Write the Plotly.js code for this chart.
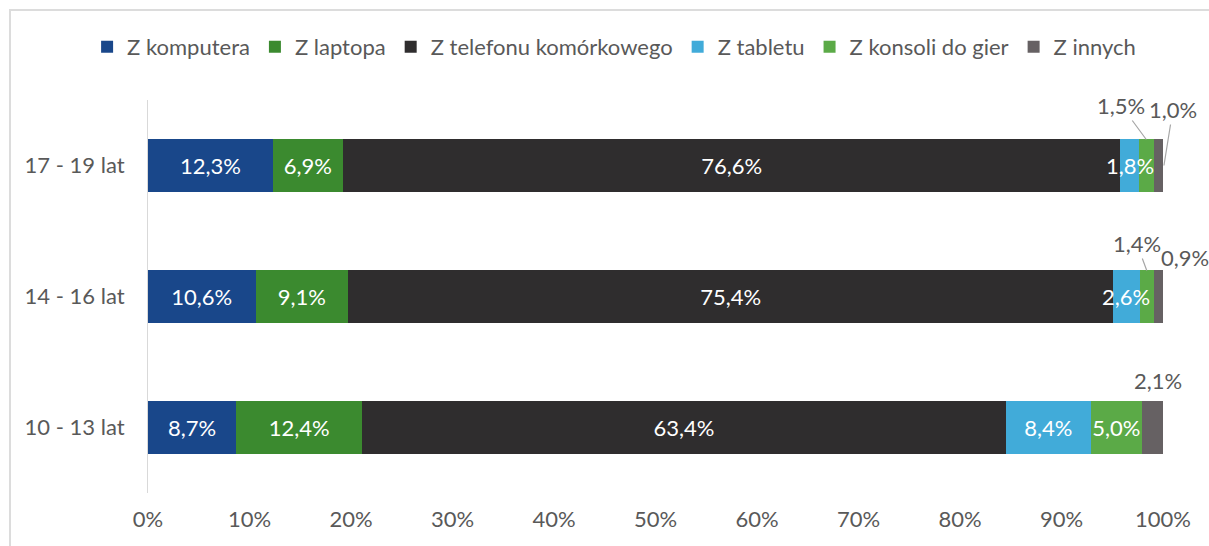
<!DOCTYPE html>
<html>
<head>
<meta charset="utf-8">
<script src="https://cdn.plot.ly/plotly-3.0.1.min.js"></script>
<style>
  html, body { margin: 0; padding: 0; background: #fff; }
  #chart { width: 1209px; height: 546px; }
  #frame { position: absolute; left: 9px; top: 9px; width: 1300px; height: 600px;
           border-left: 2px solid #dcdcdc; border-top: 2px solid #dcdcdc; pointer-events: none; }
</style>
</head>
<body>
<div id="chart"></div>
<div id="frame"></div>
<script>
// ---- data ----
var categories = ['10 - 13 lat', '14 - 16 lat', '17 - 19 lat'];
var seriesNames = ['Z komputera', 'Z laptopa', 'Z telefonu komórkowego', 'Z tabletu', 'Z konsoli do gier', 'Z innych'];
var komputera = [8.7, 10.6, 12.3];
var laptopa   = [12.4, 9.1, 6.9];
var telefonu  = [63.4, 75.4, 76.6];
var tabletu   = [8.4, 2.6, 1.8];
var konsoli   = [5.0, 1.4, 1.5];
var innych    = [2.1, 0.9, 1.0];
var xTickVals = [0, 10, 20, 30, 40, 50, 60, 70, 80, 90, 100];
var xTickText = ['0%', '10%', '20%', '30%', '40%', '50%', '60%', '70%', '80%', '90%', '100%'];

// ---- styles ----
var colors = ['#19478A', '#3B8A2F', '#2F2D2E', '#41ABD9', '#5BAA47', '#666163'];
var seriesValues = [komputera, laptopa, telefonu, tabletu, konsoli, innych];
var FONT = 'Lato, "Open Sans", sans-serif';
var FS = 22;

// labels drawn as annotations instead of inside the bar: [series index, category index, kind, ax, ay, xshift, yshift]
var outsideLabels = [
  [3, 2, 'over', 0, 0, 0, 0],
  [3, 1, 'over', 0, 0, 0, 0],
  [4, 2, 'arrow', -25, -34, 0, 26],
  [5, 2, 'arrow', 9, -56, 5, 0],
  [4, 1, 'arrow', -10, -27, 0, 26],
  [5, 1, 'free', 0, 0, 27, 39],
  [5, 0, 'free', 0, 0, 6, 47]
];

function fmt(v) { return v.toFixed(1).replace('.', ',') + '%'; }
function isOutside(si, ci) {
  return outsideLabels.some(function (o) { return o[0] === si && o[1] === ci; });
}

var traces = seriesNames.map(function (name, si) {
  return {
    type: 'bar',
    orientation: 'h',
    name: name,
    y: categories,
    x: seriesValues[si],
    marker: { color: colors[si], line: { width: 0 } },
    text: seriesValues[si].map(function (v, ci) { return isOutside(si, ci) ? '' : fmt(v); }),
    textposition: 'inside',
    insidetextanchor: 'middle',
    textangle: 0,
    textfont: { color: '#ffffff', size: FS, family: FONT },
    hoverinfo: 'x+name'
  };
});

function cumStart(si, ci) {
  var s = 0;
  for (var k = 0; k < si; k++) s += seriesValues[k][ci];
  return s;
}

var annotations = outsideLabels.map(function (o) {
  var si = o[0], ci = o[1], kind = o[2];
  var v = seriesValues[si][ci];
  var start = cumStart(si, ci);
  var a = {
    x: start + v / 2, y: categories[ci], xref: 'x', yref: 'y',
    text: fmt(v),
    font: { size: FS, family: FONT, color: kind === 'over' ? '#ffffff' : '#595959' },
    xshift: o[5], yshift: o[6]
  };
  if (kind === 'arrow') {
    a.showarrow = true; a.arrowhead = 0; a.arrowwidth = 1.2; a.arrowcolor = '#a6a6a6';
    a.ax = o[3]; a.ay = o[4]; a.axref = 'pixel'; a.ayref = 'pixel'; a.standoff = 0;
  } else {
    a.showarrow = false;
  }
  return a;
});

var layout = {
  width: 1209, height: 546,
  margin: { l: 148, r: 46, t: 100, b: 53, pad: 0 },
  paper_bgcolor: 'rgba(0,0,0,0)', plot_bgcolor: 'rgba(0,0,0,0)',
  barmode: 'stack',
  bargap: 0.6,
  separators: ', ',
  font: { family: FONT, size: FS, color: '#595959' },
  uniformtext: { mode: 'show', minsize: FS },
  showlegend: true,
  legend: {
    orientation: 'h', xref: 'paper', yref: 'paper',
    x: -0.060, xanchor: 'left', y: 1.135, yanchor: 'middle',
    font: { size: FS, family: FONT, color: '#595959' }, traceorder: 'normal'
  },
  xaxis: {
    range: [0, 100], autorange: false, tickmode: 'array', tickvals: xTickVals, ticktext: xTickText,
    showgrid: false, zeroline: false, showline: false,
    ticks: 'outside', ticklen: 7, tickcolor: 'rgba(0,0,0,0)',
    tickfont: { size: FS, family: FONT, color: '#595959' }, fixedrange: true
  },
  yaxis: {
    type: 'category', categoryorder: 'array', categoryarray: categories,
    range: [-0.5, 2.5], autorange: false,
    showgrid: false, zeroline: false, showline: true, linecolor: '#d9d9d9', linewidth: 1,
    ticks: 'outside', ticklen: 18, tickcolor: 'rgba(0,0,0,0)',
    tickfont: { size: FS, family: FONT, color: '#595959' }, fixedrange: true
  },
  annotations: annotations
};

Plotly.newPlot('chart', traces, layout, { displayModeBar: false, staticPlot: true });
</script>
</body>
</html>
